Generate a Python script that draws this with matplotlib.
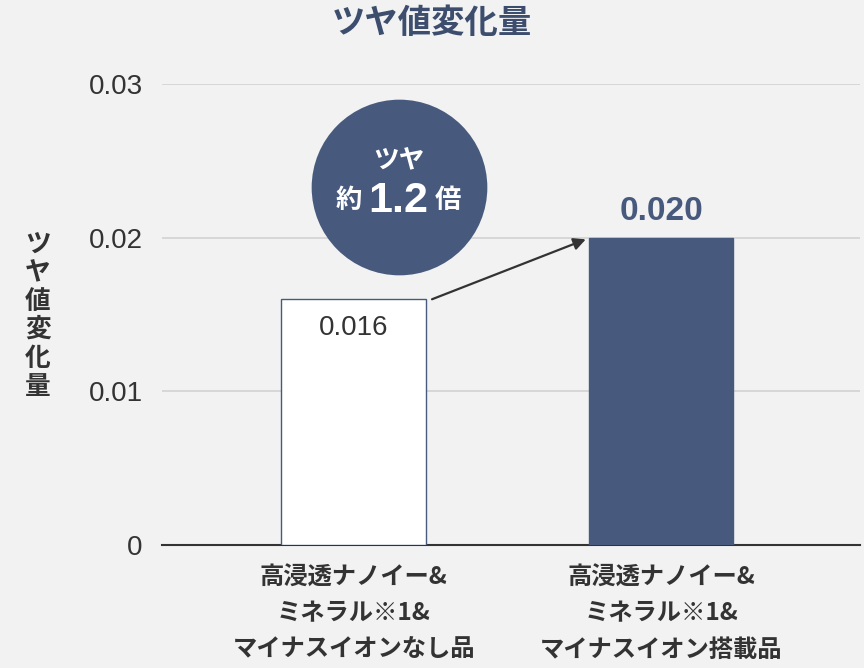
import matplotlib
matplotlib.use('Agg')
import matplotlib.pyplot as plt

# ---------------------------------------------------------------
# DATA

categories = ['高浸透ナノイー&\nミネラル※1&\nマイナスイオンなし品',
              '高浸透ナノイー&\nミネラル※1&\nマイナスイオン搭載品']
values = [0.016, 0.020]
value_labels = ['0.016', '0.020']
y_ticks = [0, 0.01, 0.02, 0.03]
y_tick_labels = ['0', '0.01', '0.02', '0.03']
ratio_text = '1.2'

# ---------------------------------------------------------------
# STYLE

BG = '#f2f2f2'
NAVY = '#475a7e'
DARK = '#333333'
JP = ['Noto Sans CJK JP', 'DejaVu Sans']
NUM = ['Liberation Sans', 'Noto Sans CJK JP']

plt.rcParams['font.family'] = JP

fig = plt.figure(figsize=(8.64, 6.68), dpi=100, facecolor=BG)
ax = fig.add_axes([0.1875, 0.184, 0.808, 0.690], facecolor=BG)

x = list(range(len(values)))
width = 0.47
ax.bar(x[0], values[0], width, color='white', edgecolor=NAVY, linewidth=1, zorder=3)
ax.bar(x[1], values[1], width, color=NAVY, edgecolor=NAVY, linewidth=1, zorder=3)

ax.set_xlim(-0.623, 1.647)
ax.set_ylim(0, 0.03)
ax.set_yticks(y_ticks)
ax.set_yticklabels(y_tick_labels, family=NUM, fontsize=20, color=DARK)
ax.set_xticks(x)
ax.set_xticklabels(categories, fontsize=17.5, weight='bold', color=DARK,
                   linespacing=1.62)
ax.tick_params(axis='both', length=0)
ax.tick_params(axis='y', pad=14)
ax.tick_params(axis='x', pad=15)
ax.grid(axis='y', color='#d2d2d2', linewidth=1.2, zorder=0)
for s in ['top', 'right', 'left']:
    ax.spines[s].set_visible(False)
ax.spines['bottom'].set_color(DARK)
ax.spines['bottom'].set_linewidth(1.5)

# value labels
ax.text(x[0], values[0] - 0.0019, value_labels[0], ha='center', va='center',
        family=NUM, fontsize=20, color=DARK, zorder=4)
ax.text(x[1], values[1] + 0.0017, value_labels[1], ha='center', va='center',
        family=NUM, fontsize=24, weight='bold', color=NAVY, zorder=4)

# arrow
ax.annotate('', xy=(x[1] - width / 2 - 0.01, values[1] - 0.0001),
            xytext=(x[0] + width / 2 + 0.02, values[0]),
            arrowprops=dict(arrowstyle='-|>', color=DARK, lw=1.6,
                            mutation_scale=18, shrinkA=0, shrinkB=0),
            zorder=5)

# circle badge
cx, cy = 0.148, 0.0233
ax.scatter([cx], [cy], s=16000, color=NAVY, zorder=6, linewidths=0)
ax.text(cx, cy + 0.0017, 'ツヤ', ha='center', va='center', fontsize=18.5,
        weight='bold', color='white', zorder=7)
ax.text(cx - 0.163, cy - 0.0009, '約', ha='center', va='center', fontsize=19,
        weight='bold', color='white', zorder=7)
ax.text(cx - 0.004, cy - 0.0009, ratio_text, ha='center', va='center',
        family=NUM, fontsize=31, weight='bold', color='white', zorder=7)
ax.text(cx + 0.16, cy - 0.0009, '倍', ha='center', va='center', fontsize=19,
        weight='bold', color='white', zorder=7)

# titles
fig.text(0.5, 0.965, 'ツヤ値変化量', ha='center', va='center', fontsize=24,
         weight='bold', color='#3d4d6e')
fig.text(0.044, 0.528, 'ツ\nヤ\n値\n変\n化\n量', ha='center', va='center',
         fontsize=18.5, weight='bold', color=DARK, linespacing=1.07)

fig.savefig('out.png', dpi=100, facecolor=BG)
